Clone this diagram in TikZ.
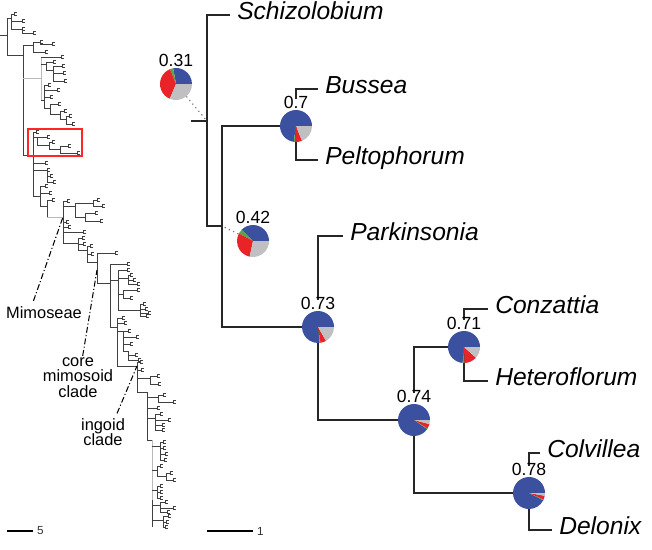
\documentclass[tikz,border=0pt]{standalone}
\usepackage{fontspec}
\setmainfont{Liberation Sans}
\usepackage{tikz}
\usetikzlibrary{positioning, calc}

\definecolor{pieblue}{RGB}{60,80,160}
\definecolor{piered}{RGB}{232,36,40}
\definecolor{piegreen}{RGB}{84,168,72}
\definecolor{piegrey}{RGB}{192,192,194}

\begin{document}
\begin{tikzpicture}[
  x=0.03cm, y=-0.03cm,
  branch/.style={draw=black!85, line width=1.1pt},
  lt/.style={draw=black!75, line width=0.45pt},
  ltg/.style={draw=gray!55, line width=0.8pt},
  taxon/.style={
    font=\fontsize{21}{25}\selectfont\itshape, anchor=west,
    inner xsep=6pt, inner ysep=0pt, text height=0.72em, text depth=0pt
  },
  probab/.style={
    font=\fontsize{15}{17}\selectfont, fill=white,
    inner sep=1pt, text height=0.72em, text depth=0pt
  },
  pienode/.style={circle, inner sep=0pt, minimum size=0.96cm},
  pointille/.style={draw=black!55, line width=1pt, dash pattern=on 1pt off 3pt},
  cladelabel/.style={font=\fontsize{14}{13.3}\selectfont, align=center, inner sep=0pt},
  cladeline/.style={draw=black, line width=0.9pt, dash pattern=on 5pt off 2pt on 1pt off 2pt},
  echelle/.style={draw=black, line width=1.1pt},
  scalelbl/.style={font=\fontsize{10}{12}\selectfont, anchor=west, inner xsep=3pt, inner ysep=0pt, text=black!80},
  boite/.style={draw=red!85!white, line width=0.9pt}
]
\tikzset{
  pics/feuille/.style={
    code={
      \draw[line width=0.4pt, draw=black!75] (2.5,-1.6) -- (0,-1.6) -- (0,1.6) -- (2.5,1.6);
    }
  },
  pics/camembert/.style n args={3}{
    code={
      \fill[pieblue]  (0,0) -- (0:0.48cm) arc[start angle=0, end angle=#1, radius=0.48cm] -- cycle;
      \fill[piegreen] (0,0) -- (#1:0.48cm) arc[start angle=#1, end angle=#2, radius=0.48cm] -- cycle;
      \fill[piered]   (0,0) -- (#2:0.48cm) arc[start angle=#2, end angle=#3, radius=0.48cm] -- cycle;
      \fill[piegrey]  (0,0) -- (#3:0.48cm) arc[start angle=#3, end angle=360, radius=0.48cm] -- cycle;
    }
  }
}
\useasboundingbox (0,0) rectangle (652,549);

% ----- arbre complet (gauche) -----
\draw[lt] (0,35) -- (7,35)  (7,18) -- (7,55)  (7,18) -- (11,18)  (11,14) -- (11,29)
  (11,14) -- (14,14)  (11,21) -- (22,21)  (11,29) -- (22,29)  (22,29) -- (22,33) -- (33,33);
\foreach \tx/\ty in {14/14, 22/21, 22/29, 33/33} \pic at (\tx,\ty) {feuille};

\draw[lt] (7,55) -- (23,55)  (23,45) -- (23,155)
  (23,45) -- (33,45)  (33,42) -- (33,52)  (33,42) -- (40,42)  (40,42) -- (40,44) -- (52,44)  (33,52) -- (45,52);
\foreach \tx/\ty in {40/42, 52/44, 45/52} \pic at (\tx,\ty) {feuille};

\draw[ltg] (23,78) -- (41,78)  (41,57) -- (41,100);
\draw[lt] (41,57) -- (61,57)  (41,64) -- (46,64)  (46,62) -- (46,70)  (46,62) -- (53,62)
  (46,70) -- (53,70)  (53,66) -- (53,81)  (53,66) -- (62,66)  (53,73) -- (63,73)  (53,81) -- (64,81);
\foreach \tx/\ty in {61/57, 53/62, 62/66, 63/73, 64/81} \pic at (\tx,\ty) {feuille};

\draw[lt] (41,100) -- (44,100)  (44,85) -- (44,108)
  (44,85) -- (48,85)  (44,90) -- (57,90)  (44,97) -- (50,97)
  (44,108) -- (50,108)  (50,104) -- (50,114)  (50,104) -- (58,104)
  (50,114) -- (60,114)  (60,111) -- (60,119)  (60,111) -- (64,111)
  (60,119) -- (66,119)  (66,116) -- (66,124)  (66,116) -- (69,116)  (66,124) -- (72,124);
\foreach \tx/\ty in {48/85, 57/90, 50/97, 58/104, 64/111, 69/116, 72/124} \pic at (\tx,\ty) {feuille};

\draw[lt] (23,155) -- (33,155)  (33,132) -- (33,196)
  (33,132) -- (36,132)  (33,137) -- (37,137)  (37,137) -- (37,145)  (37,137) -- (47,137)
  (37,145) -- (49,145)  (49,142) -- (49,149)  (49,142) -- (52,142)  (49,149) -- (60,149)
  (60,146) -- (60,153)  (60,146) -- (68,146)  (60,153) -- (77,153);
\foreach \tx/\ty in {36/132, 47/137, 52/142, 68/146, 77/153} \pic at (\tx,\ty) {feuille};
\draw[boite] (28,129) rectangle (82,156);

\draw[lt] (33,163) -- (45,163)  (33,170) -- (47,170)  (47,170) -- (47,182)
  (47,176) -- (50,176)  (47,182) -- (53,182)
  (33,196) -- (40,196)  (40,186) -- (40,206)  (40,186) -- (45,186)  (40,193) -- (49,193)
  (40,206) -- (47,206)  (47,200) -- (47,217)  (47,200) -- (52,200);
\foreach \tx/\ty in {45/163, 47/170, 50/176, 53/182, 45/186, 49/193, 52/200} \pic at (\tx,\ty) {feuille};
\draw[ltg] (47,217) -- (63,217);

% Mimoseae
\draw[lt] (63,201) -- (63,243)
  (63,201) -- (67,201)  (63,206) -- (75,206)  (75,203) -- (75,217)  (75,203) -- (93,203)
  (93,200) -- (93,206)  (93,200) -- (97,200)  (93,206) -- (102,206)
  (75,217) -- (85,217)  (85,213) -- (85,221)  (85,213) -- (95,213)  (85,221) -- (100,221)
  (63,222) -- (66,222)  (63,227) -- (68,227)  (63,232) -- (83,232)
  (63,243) -- (78,243)  (78,238) -- (78,250)  (78,238) -- (82,238)  (78,244) -- (83,244)
  (78,250) -- (87,250)  (87,246) -- (87,262)  (87,246) -- (90,246)  (87,254) -- (91,254)
  (87,262) -- (97,262);
\foreach \tx/\ty in {67/201, 97/200, 102/206, 95/213, 100/221, 66/222, 68/227, 83/232,
  82/238, 83/244, 90/246, 91/254} \pic at (\tx,\ty) {feuille};

% core mimosoid clade
\draw[lt] (97,253) -- (97,283)  (97,253) -- (115,253)
  (97,283) -- (110,283)  (110,264) -- (110,327)
  (110,264) -- (127,264)  (110,280) -- (118,280)  (118,270) -- (118,310)
  (118,270) -- (127,270)  (118,278) -- (128,278)  (128,275) -- (128,284)
  (128,275) -- (130,275)  (128,280) -- (133,280)  (128,284) -- (137,284)
  (118,294) -- (123,294)  (123,290) -- (123,298)  (123,290) -- (137,290)  (123,298) -- (130,298)
  (118,310) -- (140,310)  (140,304) -- (140,316)  (140,304) -- (143,304)  (140,309) -- (145,309)
  (140,313) -- (148,313)  (140,316) -- (146,316)
  (110,327) -- (117,327);
\foreach \tx/\ty in {115/253, 127/264, 127/270, 130/275, 133/280, 137/284, 137/290, 130/298,
  143/304, 145/309, 148/313, 146/316} \pic at (\tx,\ty) {feuille};

\draw[lt] (117,318) -- (117,366)
  (117,318) -- (122,318)  (117,323) -- (124,323)
  (117,331) -- (123,331)  (123,331) -- (123,351)  (123,331) -- (128,331)  (123,337) -- (136,337)
  (123,344) -- (130,344)  (123,351) -- (128,351)  (128,351) -- (128,360)
  (128,355) -- (135,355)  (128,360) -- (138,360)
  (117,366) -- (137,366);
\foreach \tx/\ty in {122/318, 124/323, 128/331, 136/337, 130/344, 135/355, 138/360} \pic at (\tx,\ty) {feuille};

% ingoid clade
\draw[lt] (137,362) -- (137,392)
  (137,362) -- (140,362)  (137,370) -- (141,370)
  (137,378) -- (150,378)  (150,376) -- (150,384)  (150,376) -- (157,376)  (150,384) -- (158,384)
  (137,392) -- (147,392)  (147,392) -- (147,440)
  (147,397) -- (158,397)  (158,395) -- (158,402)  (158,395) -- (163,395)  (158,402) -- (173,402)
  (147,408) -- (157,408)
  (147,418) -- (155,418)  (155,414) -- (155,430)  (155,414) -- (160,414)  (155,420) -- (168,420)
  (155,425) -- (162,425)  (155,430) -- (162,430)
  (147,440) -- (152,440);
\draw[ltg] (152,440) -- (152,500);
\draw[lt] (152,500) -- (152,527)
  (152,446) -- (160,446)  (160,442) -- (160,460)  (160,442) -- (163,442)  (160,448) -- (163,448)
  (160,454) -- (165,454)  (160,460) -- (164,460)
  (152,470) -- (157,470)  (157,466) -- (157,476)  (157,466) -- (160,466)  (157,476) -- (166,476)
  (166,473) -- (166,480)  (166,473) -- (170,473)  (166,480) -- (173,480)
  (152,490) -- (157,490)  (157,486) -- (157,498)  (157,486) -- (160,486)  (157,492) -- (160,492)
  (157,498) -- (160,498)
  (152,505) -- (160,505)  (160,502) -- (160,512)  (160,502) -- (165,502)  (160,508) -- (173,508)
  (160,512) -- (167,512)
  (152,520) -- (163,520)  (163,516) -- (163,527)  (163,516) -- (168,516)  (163,522) -- (166,522)
  (163,527) -- (165,527);
\foreach \tx/\ty in {140/362, 141/370, 157/376, 158/384, 163/395, 173/402, 157/408, 160/414,
  168/420, 162/425, 162/430, 163/442, 163/448, 165/454, 164/460, 160/466, 170/473, 173/480,
  160/486, 160/492, 160/498, 165/502, 173/508, 167/512, 168/516, 166/522, 165/527}
  \pic at (\tx,\ty) {feuille};

% ----- clades nommés -----
\coordinate (mimo) at (63,217);
\coordinate (coremim) at (97,270);
\coordinate (ingo) at (137,366);
\node[cladelabel] (mimoseae) at (44,313) {Mimoseae};
\node[cladelabel, anchor=north] (corelbl) at (78,357) {core\\mimosoid\\clade};
\node[cladelabel, anchor=north] (ingolbl) at (103,418) {ingoid\\clade};
\draw[cladeline] ([xshift=-9pt, yshift=5pt]mimoseae.north) -- (mimo);
\draw[cladeline] ([xshift=4pt, yshift=1pt]corelbl.north) -- (coremim);
\draw[cladeline] ([xshift=12pt, yshift=4pt]ingolbl.north) -- (ingo);

% ----- sous-arbre (droite) -----
\coordinate (rootstub) at (191,121);
\coordinate (nroot) at (207,121);
\coordinate (n42) at (222,226);
\node[pienode] (n07) at (296,126) {};
\node[pienode] (n73) at (318,327) {};
\node[pienode] (n74) at (414,420) {};
\node[pienode] (n71) at (464,347) {};
\node[pienode] (n78) at (529,493) {};
\node[pienode] (p31) at (176,84) {};
\node[pienode] (p42) at (253,241) {};

\node[taxon] (schizo)  at (230,15)  {Schizolobium};
\node[taxon] (bussea)  at (318,89)  {Bussea};
\node[taxon] (pelto)   at (318,160) {Peltophorum};
\node[taxon] (parkin)  at (343,236) {Parkinsonia};
\node[taxon] (conza)   at (488,309) {Conzattia};
\node[taxon] (hetero)  at (488,381) {Heteroflorum};
\node[taxon] (colvil)  at (540,453) {Colvillea};
\node[taxon] (delonix) at (552,530) {Delonix};

\draw[branch] (rootstub) -- (nroot);
\draw[branch] (schizo.west) -| (nroot |- n42) -- (n42);
\draw[branch] (n07.center) -| (n42 |- n73) -- (n73.center);
\draw[branch] (bussea.west) -| (n07.center) |- (pelto.west);
\draw[branch] (parkin.west) -| (n73.center) |- (n74.center);
\draw[branch] (n71.center) -| (n74.center) |- (n78.center);
\draw[branch] (conza.west) -| (n71.center) |- (hetero.west);
\draw[branch] (colvil.west) -| (n78.center) |- (delonix.west);

\draw[pointille] (p31) -- (nroot);
\draw[pointille] (p42) -- (n42);

% camemberts
\pic at (p31) {camembert={100}{112}{247}};
\pic at (p42) {camembert={135}{152}{258}};
\pic at (n07) {camembert={262}{266}{292}};
\pic at (n73) {camembert={276}{279}{300}};
\pic at (n74) {camembert={325}{328}{345}};
\pic at (n71) {camembert={265}{272}{318}};
\pic at (n78) {camembert={333}{336}{350}};

\node[probab, above=0pt of p31] (l31) {0.31};
\node[probab, above=0pt of p42] (l42) {0.42};
\node[probab, above=0pt of n07] (l07) {0.7};
\node[probab, above=0pt of n73] (l73) {0.73};
\node[probab, above=0pt of n74] (l74) {0.74};
\node[probab, above=0pt of n71] (l71) {0.71};
\node[probab, above=0pt of n78] (l78) {0.78};

% ----- échelles -----
\draw[echelle] (7,531) -- (33,531) node[scalelbl] (sb5) {5};
\draw[echelle] (207,531) -- (253,531) node[scalelbl] (sb1) {1};

\end{tikzpicture}
\end{document}
